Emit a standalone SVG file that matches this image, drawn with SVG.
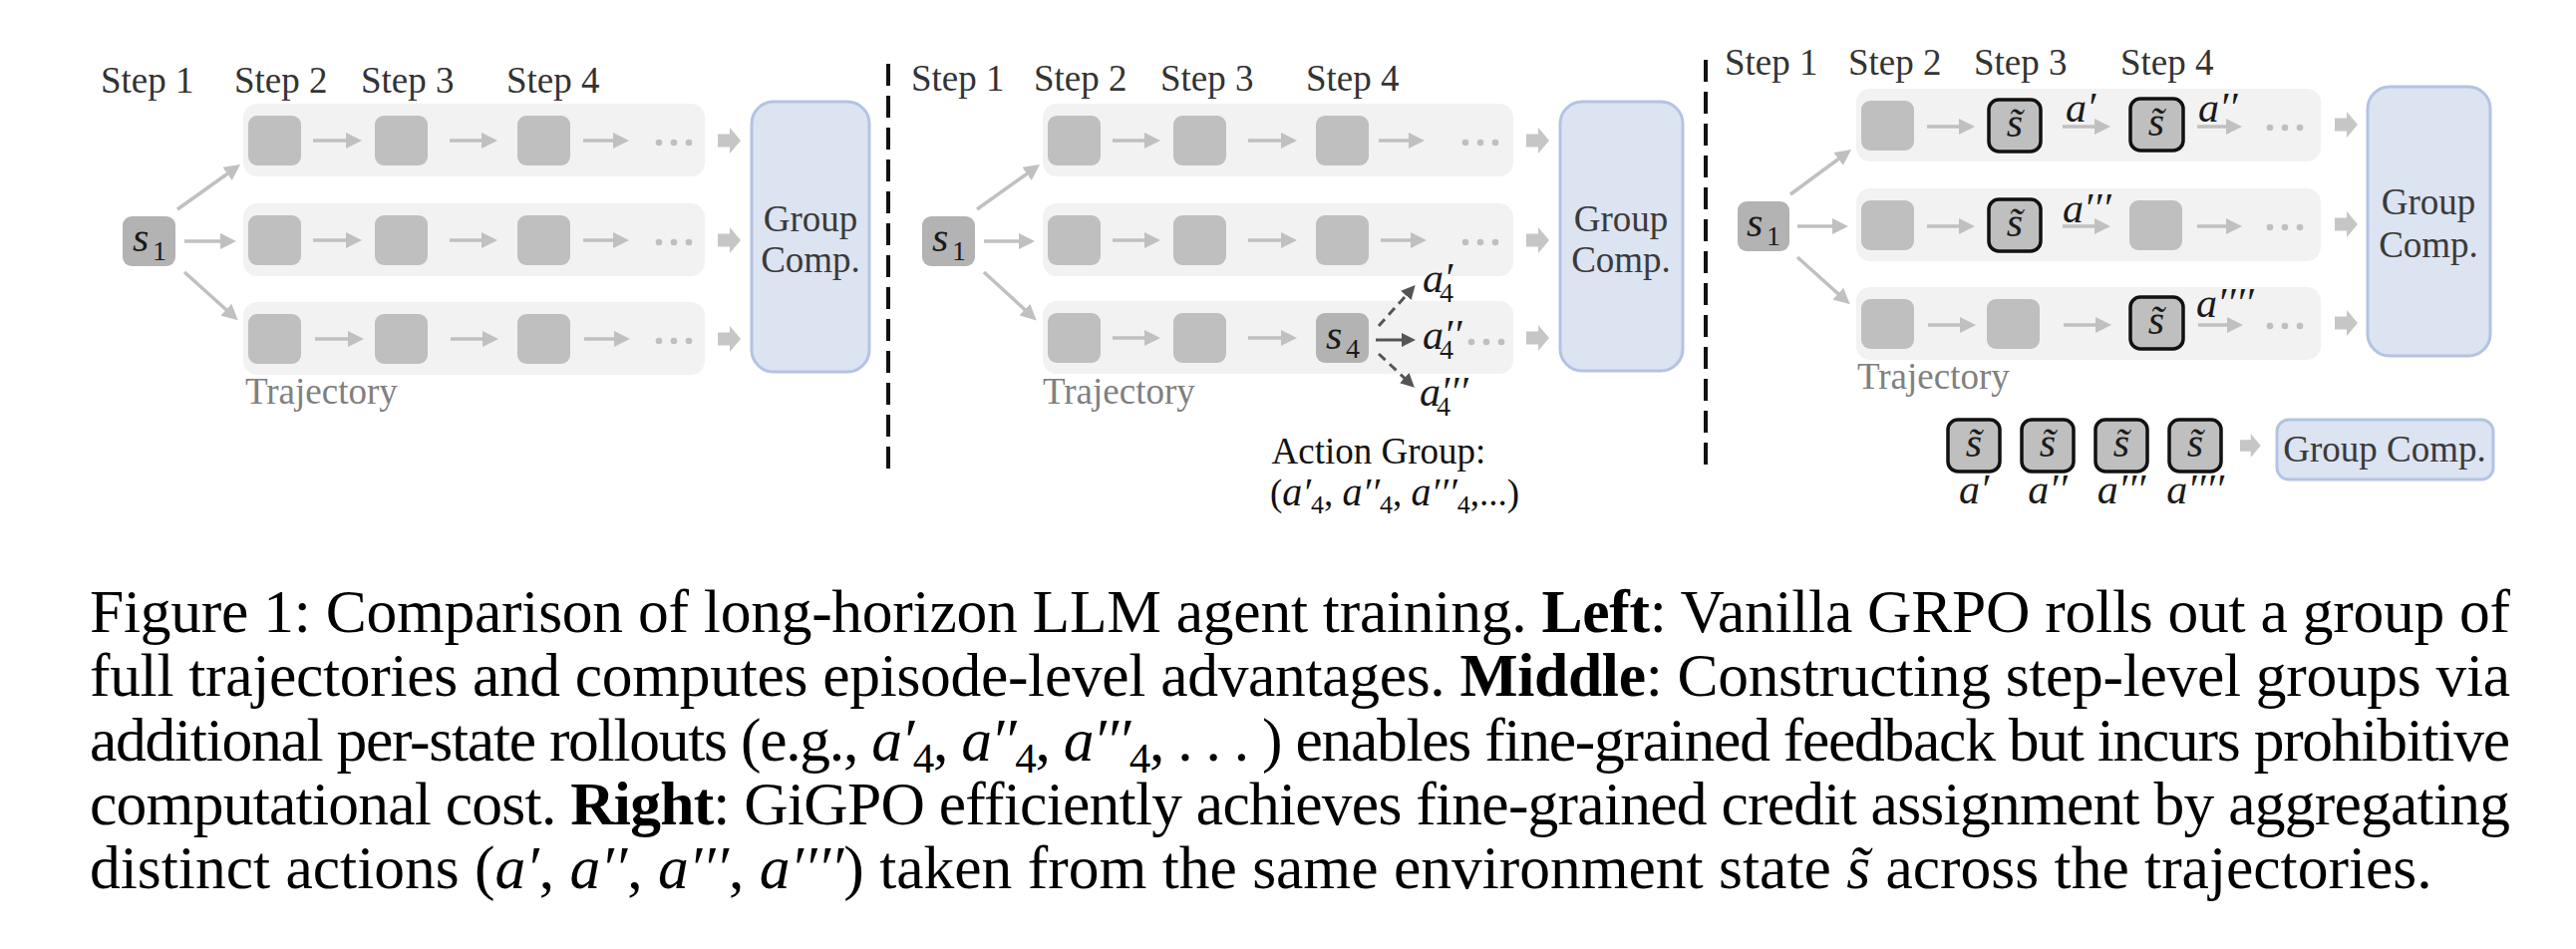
<svg xmlns="http://www.w3.org/2000/svg" width="2584" height="952" viewBox="0 0 2584 952">
<style>
.bg{fill:#ffffff}
.st{font-family:"Liberation Serif",serif;font-size:37px;fill:#333333}
.tr{font-family:"Liberation Serif",serif;font-size:37px;fill:#808080}
.gt{font-family:"Liberation Serif",serif;font-size:37px;fill:#3a3a3a;text-anchor:middle}
.at{font-family:"Liberation Serif",serif;font-size:37px;fill:#111111}
.m{font-family:"Liberation Serif",serif;font-style:italic;font-size:42px;fill:#1a1a1a}
.mc{font-family:"Liberation Serif",serif;font-style:italic;font-size:42px;fill:#1a1a1a;text-anchor:middle}
.sb{font-style:normal;font-size:28px}
.row{fill:#f2f2f2}
.sq{fill:#bfbfbf}
.sd{fill:#b3b3b3}
.sx{fill:#bfbfbf;stroke:#111111;stroke-width:3.5}
.ar{stroke:#c0c0c0;stroke-width:3.5;fill:none;marker-end:url(#ah)}
.da{stroke:#555555;stroke-width:3;fill:none;marker-end:url(#ahd)}
.dsh{stroke-dasharray:9 6}
.fat{fill:#c6c6c6}
.gbox{fill:#dce3f1;stroke:#b3c3e3;stroke-width:3}
.dl{stroke:#111111;stroke-width:4;stroke-dasharray:22 10;fill:none}
.dot{fill:#bfbfbf}
.cap{font-family:"Liberation Serif",serif;font-size:61.5px;fill:#000000}
.b{font-weight:bold}
.i{font-style:italic}
</style>
<defs>
<marker id="ah" viewBox="0 0 16 16" refX="11" refY="8" markerWidth="16" markerHeight="16" markerUnits="userSpaceOnUse" orient="auto"><path d="M0,0 L16,8 L0,16 Z" fill="#c0c0c0"/></marker>
<marker id="ahd" viewBox="0 0 14 14" refX="10" refY="7" markerWidth="14" markerHeight="14" markerUnits="userSpaceOnUse" orient="auto"><path d="M0,0 L14,7 L0,14 Z" fill="#555555"/></marker>
<path id="fatA" d="M0,-6.5 H12 V-13 L23,0 L12,13 V6.5 H0 Z"/>
<g id="dots"><circle cx="0" cy="0" r="3.3"/><circle cx="15" cy="0" r="3.3"/><circle cx="30" cy="0" r="3.3"/></g>
</defs>
<rect class="bg" x="0" y="0" width="2584" height="952"/>

<!-- ================= LEFT PANEL ================= -->
<g id="left-steps">
<text class="st" x="101" y="93">Step 1</text>
<text class="st" x="235" y="93">Step 2</text>
<text class="st" x="362" y="93">Step 3</text>
<text class="st" x="508" y="93">Step 4</text>
</g>
<g id="left-traj1"><rect class="row" x="244" y="104" width="463" height="73" rx="14"/>
<rect class="sq" x="249" y="116" width="53" height="50" rx="9"/><rect class="sq" x="376" y="116" width="53" height="50" rx="9"/><rect class="sq" x="519" y="116" width="53" height="50" rx="9"/>
<use href="#dots" class="dot" x="661" y="143"/></g>
<g id="left-traj2"><rect class="row" x="244" y="204" width="463" height="73" rx="14"/>
<rect class="sq" x="249" y="216" width="53" height="50" rx="9"/><rect class="sq" x="376" y="216" width="53" height="50" rx="9"/><rect class="sq" x="519" y="216" width="53" height="50" rx="9"/>
<use href="#dots" class="dot" x="661" y="243"/></g>
<g id="left-traj3"><rect class="row" x="244" y="303" width="463" height="73" rx="14"/>
<rect class="sq" x="249" y="315" width="53" height="50" rx="9"/><rect class="sq" x="376" y="315" width="53" height="50" rx="9"/><rect class="sq" x="519" y="315" width="53" height="50" rx="9"/>
<use href="#dots" class="dot" x="661" y="342"/></g>
<g id="left-s1"><rect class="sd" x="123" y="217" width="53" height="50" rx="9"/>
<text class="m" x="133" y="252" font-size="44">s<tspan class="sb" x="153" y="261">1</tspan></text></g>
<g id="left-group"><rect class="gbox" x="754" y="102" width="118" height="271" rx="22"/>
<text class="gt" x="813" y="232">Group</text><text class="gt" x="813" y="273">Comp.</text></g>
<text class="tr" x="246" y="405">Trajectory</text>

<!-- ================= MIDDLE PANEL ================= -->
<g id="mid-steps">
<text class="st" x="914" y="91">Step 1</text>
<text class="st" x="1037" y="91">Step 2</text>
<text class="st" x="1164" y="91">Step 3</text>
<text class="st" x="1310" y="91">Step 4</text>
</g>
<g id="mid-traj1"><rect class="row" x="1046" y="104" width="472" height="73" rx="14"/>
<rect class="sq" x="1051" y="116" width="53" height="50" rx="9"/><rect class="sq" x="1177" y="116" width="53" height="50" rx="9"/><rect class="sq" x="1320" y="116" width="53" height="50" rx="9"/>
<use href="#dots" class="dot" x="1470" y="143"/></g>
<g id="mid-traj2"><rect class="row" x="1046" y="204" width="472" height="73" rx="14"/>
<rect class="sq" x="1051" y="216" width="53" height="50" rx="9"/><rect class="sq" x="1177" y="216" width="53" height="50" rx="9"/><rect class="sq" x="1320" y="216" width="53" height="50" rx="9"/>
<use href="#dots" class="dot" x="1470" y="243"/></g>
<g id="mid-traj3"><rect class="row" x="1046" y="302" width="472" height="73" rx="14"/>
<rect class="sq" x="1051" y="314" width="53" height="50" rx="9"/><rect class="sq" x="1177" y="314" width="53" height="50" rx="9"/>
<use href="#dots" class="dot" x="1476" y="343"/></g>
<g id="mid-s4"><rect class="sd" x="1320" y="314" width="53" height="50" rx="9"/>
<text class="m" x="1330" y="350" font-size="44">s<tspan class="sb" x="1350" y="359">4</tspan></text></g>
<g id="mid-s1"><rect class="sd" x="925" y="217" width="53" height="50" rx="9"/>
<text class="m" x="935" y="252" font-size="44">s<tspan class="sb" x="955" y="261">1</tspan></text></g>
<g id="mid-group"><rect class="gbox" x="1565" y="102" width="123" height="270" rx="22"/>
<text class="gt" x="1626" y="232">Group</text><text class="gt" x="1626" y="273">Comp.</text></g>
<g id="mid-actions">
<text class="m" x="1427" y="293">a′<tspan class="sb" x="1444" y="303">4</tspan></text>
<text class="m" x="1427" y="350">a′′<tspan class="sb" x="1444" y="360">4</tspan></text>
<text class="m" x="1424" y="407">a′′′<tspan class="sb" x="1441" y="417">4</tspan></text>
</g>
<text class="tr" x="1046" y="405">Trajectory</text>
<g id="mid-action-group">
<text class="at" x="1383" y="465" text-anchor="middle">Action Group:</text>
<text class="at" x="1274" y="507">(<tspan class="i" font-size="40">a′</tspan><tspan font-size="26" dy="8">4</tspan><tspan dy="-8">, </tspan><tspan class="i" font-size="40">a′′</tspan><tspan font-size="26" dy="8">4</tspan><tspan dy="-8">, </tspan><tspan class="i" font-size="40">a′′′</tspan><tspan font-size="26" dy="8">4</tspan><tspan dy="-8">,...)</tspan></text>
</g>

<!-- ================= RIGHT PANEL ================= -->
<g id="right-steps">
<text class="st" x="1730" y="75">Step 1</text>
<text class="st" x="1854" y="75">Step 2</text>
<text class="st" x="1980" y="75">Step 3</text>
<text class="st" x="2127" y="75">Step 4</text>
</g>
<g id="right-traj1"><rect class="row" x="1862" y="89" width="466" height="73" rx="14"/>
<rect class="sq" x="1867" y="101" width="53" height="50" rx="9"/>
<rect class="sx" x="1995" y="100" width="52" height="52" rx="10"/><text class="mc" x="2021" y="137">s̃</text>
<rect class="sx" x="2137" y="99" width="53" height="52" rx="10"/><text class="mc" x="2163" y="136">s̃</text>
<use href="#dots" class="dot" x="2277" y="128"/></g>
<g id="right-traj2"><rect class="row" x="1862" y="189" width="466" height="73" rx="14"/>
<rect class="sq" x="1867" y="201" width="53" height="50" rx="9"/>
<rect class="sx" x="1995" y="200" width="52" height="52" rx="10"/><text class="mc" x="2021" y="237">s̃</text>
<rect class="sq" x="2136" y="201" width="53" height="50" rx="9"/>
<use href="#dots" class="dot" x="2277" y="228"/></g>
<g id="right-traj3"><rect class="row" x="1862" y="288" width="466" height="73" rx="14"/>
<rect class="sq" x="1867" y="300" width="53" height="50" rx="9"/>
<rect class="sq" x="1993" y="300" width="53" height="50" rx="9"/>
<rect class="sx" x="2137" y="298" width="53" height="52" rx="10"/><text class="mc" x="2163" y="335">s̃</text>
<use href="#dots" class="dot" x="2277" y="327"/></g>
<g id="right-s1"><rect class="sd" x="1743" y="202" width="52" height="50" rx="9"/>
<text class="m" x="1752" y="237" font-size="44">s<tspan class="sb" x="1772" y="246">1</tspan></text></g>
<g id="right-group"><rect class="gbox" x="2375" y="87" width="123" height="270" rx="22"/>
<text class="gt" x="2436" y="215">Group</text><text class="gt" x="2436" y="258">Comp.</text></g>
<g id="right-action-labels">
<text class="m" x="2072" y="122">a′</text>
<text class="m" x="2205" y="122">a′′</text>
<text class="m" x="2069" y="223">a′′′</text>
<text class="m" x="2203" y="318">a′′′′</text>
</g>
<text class="tr" x="1863" y="390">Trajectory</text>
<g id="right-stategroup">
<rect class="sx" x="1954" y="421" width="52" height="52" rx="10"/><text class="mc" x="1980" y="458">s̃</text>
<rect class="sx" x="2028" y="421" width="52" height="52" rx="10"/><text class="mc" x="2054" y="458">s̃</text>
<rect class="sx" x="2102" y="421" width="52" height="52" rx="10"/><text class="mc" x="2128" y="458">s̃</text>
<rect class="sx" x="2176" y="421" width="52" height="52" rx="10"/><text class="mc" x="2202" y="458">s̃</text>
<text class="mc" x="1980" y="505">a′</text>
<text class="mc" x="2054" y="505">a′′</text>
<text class="mc" x="2128" y="505">a′′′</text>
<text class="mc" x="2202" y="505">a′′′′</text>
</g>
<g id="right-group-small"><rect class="gbox" x="2284" y="421" width="217" height="60" rx="12"/>
<text class="gt" x="2392" y="463">Group Comp.</text></g>

<!-- ================= CONNECTORS ================= -->
<g id="connectors">
<!-- left -->
<line class="ar" x1="178" y1="210" x2="237" y2="168"/>
<line class="ar" x1="185" y1="242" x2="232" y2="242"/>
<line class="ar" x1="185" y1="273" x2="235" y2="318"/>
<line class="ar" x1="314" y1="141" x2="358" y2="141"/><line class="ar" x1="451" y1="141" x2="494" y2="141"/><line class="ar" x1="585" y1="141" x2="626" y2="141"/>
<line class="ar" x1="314" y1="241" x2="358" y2="241"/><line class="ar" x1="451" y1="241" x2="494" y2="241"/><line class="ar" x1="585" y1="241" x2="626" y2="241"/>
<line class="ar" x1="316" y1="340" x2="360" y2="340"/><line class="ar" x1="452" y1="340" x2="495" y2="340"/><line class="ar" x1="586" y1="340" x2="627" y2="340"/>
<use href="#fatA" class="fat" x="720" y="141"/><use href="#fatA" class="fat" x="720" y="241"/><use href="#fatA" class="fat" x="720" y="340"/>
<!-- middle -->
<line class="ar" x1="980" y1="210" x2="1039" y2="168"/>
<line class="ar" x1="987" y1="242" x2="1033" y2="242"/>
<line class="ar" x1="987" y1="273" x2="1036" y2="318"/>
<line class="ar" x1="1116" y1="141" x2="1159" y2="141"/><line class="ar" x1="1252" y1="141" x2="1296" y2="141"/><line class="ar" x1="1383" y1="141" x2="1424" y2="141"/>
<line class="ar" x1="1116" y1="241" x2="1159" y2="241"/><line class="ar" x1="1252" y1="241" x2="1296" y2="241"/><line class="ar" x1="1385" y1="241" x2="1426" y2="241"/>
<line class="ar" x1="1116" y1="339" x2="1159" y2="339"/><line class="ar" x1="1252" y1="339" x2="1296" y2="339"/>
<line class="da dsh" x1="1383" y1="327" x2="1417" y2="289"/>
<line class="da" x1="1380" y1="341" x2="1416" y2="341"/>
<line class="da dsh" x1="1383" y1="355" x2="1416" y2="386"/>
<use href="#fatA" class="fat" x="1531" y="141"/><use href="#fatA" class="fat" x="1531" y="241"/><use href="#fatA" class="fat" x="1531" y="339"/>
<!-- right -->
<line class="ar" x1="1796" y1="195" x2="1853" y2="153"/>
<line class="ar" x1="1803" y1="227" x2="1849" y2="227"/>
<line class="ar" x1="1803" y1="258" x2="1852" y2="302"/>
<line class="ar" x1="1933" y1="127" x2="1976" y2="127"/><line class="ar" x1="2069" y1="127" x2="2112" y2="127"/><line class="ar" x1="2204" y1="127" x2="2244" y2="127"/>
<line class="ar" x1="1933" y1="227" x2="1976" y2="227"/><line class="ar" x1="2069" y1="227" x2="2112" y2="227"/><line class="ar" x1="2204" y1="227" x2="2244" y2="227"/>
<line class="ar" x1="1934" y1="326" x2="1977" y2="326"/><line class="ar" x1="2070" y1="326" x2="2113" y2="326"/><line class="ar" x1="2205" y1="326" x2="2245" y2="326"/>
<use href="#fatA" class="fat" x="2342" y="125"/><use href="#fatA" class="fat" x="2342" y="225"/><use href="#fatA" class="fat" x="2342" y="324"/>
<use href="#fatA" class="fat" x="2247" y="447" transform="translate(2247 447) scale(0.9) translate(-2247 -447)"/>
</g>

<!-- dashed separators -->
<g id="separators">
<line class="dl" x1="891" y1="64" x2="891" y2="478"/>
<line class="dl" x1="1711" y1="60" x2="1711" y2="472"/>
</g>

<!-- ================= CAPTION ================= -->
<g id="caption">
<text class="cap" x="90" y="634" textLength="2428" lengthAdjust="spacing">Figure 1: Comparison of long-horizon LLM agent training. <tspan class="b">Left</tspan>: Vanilla GRPO rolls out a group of</text>
<text class="cap" x="90" y="698" textLength="2428" lengthAdjust="spacing">full trajectories and computes episode-level advantages. <tspan class="b">Middle</tspan>: Constructing step-level groups via</text>
<text class="cap" x="90" y="763" textLength="2428" lengthAdjust="spacing">additional per-state rollouts (e.g., <tspan class="i">a′</tspan><tspan font-size="43" dy="12">4</tspan><tspan dy="-12">, </tspan><tspan class="i">a′′</tspan><tspan font-size="43" dy="12">4</tspan><tspan dy="-12">, </tspan><tspan class="i">a′′′</tspan><tspan font-size="43" dy="12">4</tspan><tspan dy="-12">, . . . ) enables fine-grained feedback but incurs prohibitive</tspan></text>
<text class="cap" x="90" y="827" textLength="2428" lengthAdjust="spacing">computational cost. <tspan class="b">Right</tspan>: GiGPO efficiently achieves fine-grained credit assignment by aggregating</text>
<text class="cap" x="90" y="891">distinct actions (<tspan class="i">a′</tspan>, <tspan class="i">a′′</tspan>, <tspan class="i">a′′′</tspan>, <tspan class="i">a′′′′</tspan>) taken from the same environment state <tspan class="i">s̃</tspan> across the trajectories.</text>
</g>
</svg>
